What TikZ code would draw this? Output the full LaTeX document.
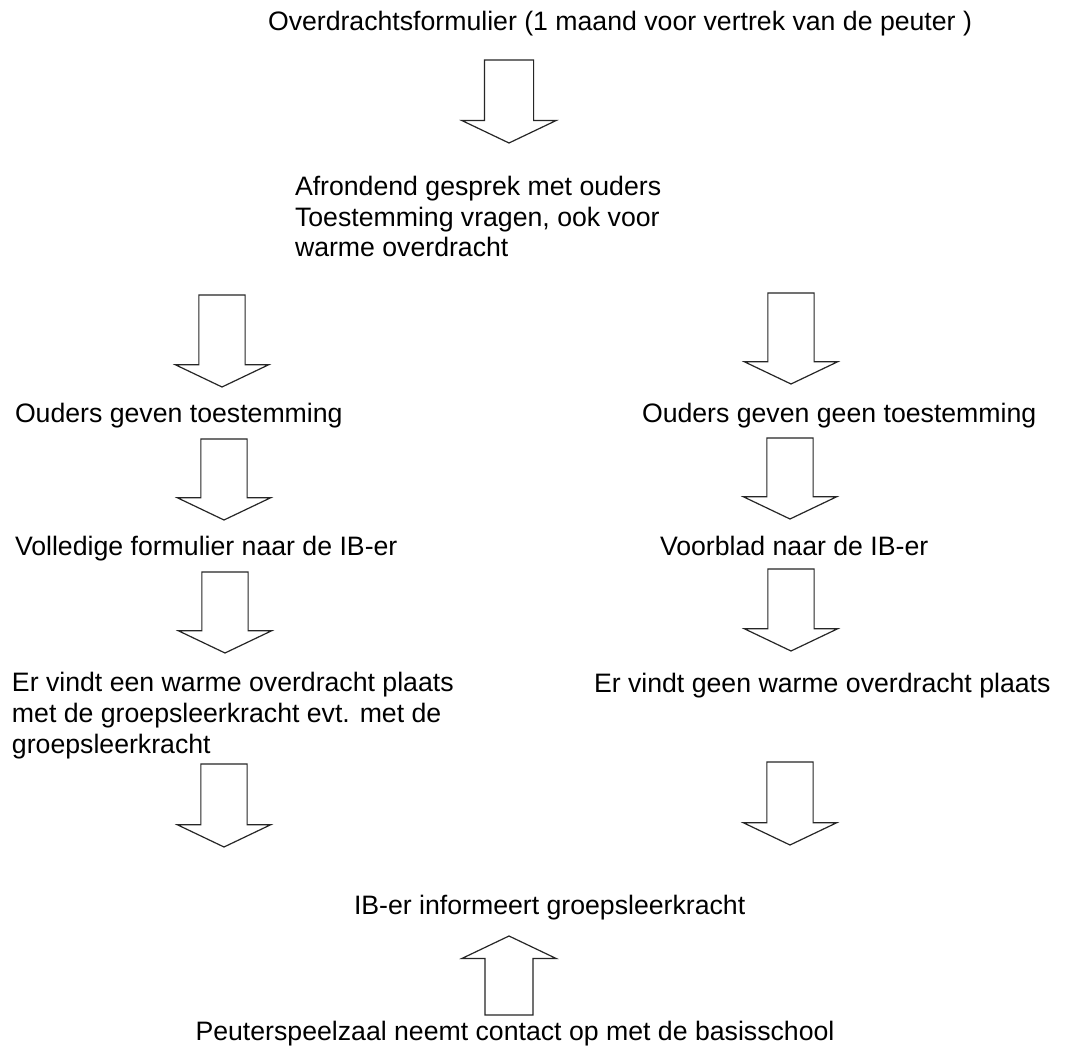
\documentclass[tikz,border=0pt]{standalone}
\usepackage{fontspec}
\setmainfont{Liberation Sans}
\usepackage{tikz}
\usetikzlibrary{shapes.arrows,positioning}
\tikzstyle{txt}=[inner sep=0pt, outer sep=0pt, align=left, font=\fontsize{20}{23}\selectfont]
\tikzstyle{darr}=[single arrow, draw=black!85, line width=0.9pt, fill=white, anchor=tail, inner xsep=0pt, inner ysep=16.9pt, single arrow head extend=17.6pt, single arrow tip angle=129, outer sep=0pt]

\begin{document}
\begin{tikzpicture}
[x=0.75pt, y=-0.75pt]
 \fill[white] (0,0) rectangle (1067,1055);
 \node[txt, anchor=base] (t0) at (620,31) {Overdrachtsformulier (1 maand voor vertrek van de peuter )};
 \node[darr, rotate=-90, inner ysep=18pt, single arrow head extend=16.9pt, minimum height=62.25pt] (a0) at (509,60) {};
 \node[txt, anchor=base west] (t1) at (295,257) {Afrondend gesprek met ouders\\Toestemming vragen, ook voor\\warme overdracht};
 \node[darr, rotate=-90, minimum height=69pt] (l2) at (222,295) {};
 \node[darr, rotate=-90, minimum height=68.25pt] (r2) at (791,293) {};
 \node[txt, anchor=base west] (l2t) at (15,422) {Ouders geven toestemming};
 \node[txt, anchor=base west] (r2t) at (642,422) {Ouders geven geen toestemming};
 \node[darr, rotate=-90, minimum height=60.75pt] (l3) at (224,439) {};
 \node[darr, rotate=-90, minimum height=60.75pt] (r3) at (790,438) {};
 \node[txt, anchor=base west] (l3t) at (15,555) {Volledige formulier naar de IB-er};
 \node[txt, anchor=base west] (r3t) at (660,555) {Voorblad naar de IB-er};
 \node[darr, rotate=-90, minimum height=60.75pt] (l4) at (225,572) {};
 \node[darr, rotate=-90, minimum height=61.5pt] (r4) at (791,569) {};
 \node[txt, anchor=base west] (l4t) at (12,753) {Er vindt een warme overdracht plaats\\met de groepsleerkracht evt. met de\\groepsleerkracht};
 \node[txt, anchor=base west] (r4t) at (594,692) {Er vindt geen warme overdracht plaats};
 \node[darr, rotate=-90, minimum height=62.25pt] (l5) at (224,764) {};
 \node[darr, rotate=-90, minimum height=62.25pt] (r5) at (790,762) {};
 \node[txt, anchor=base west] (t5) at (354,914) {IB-er informeert groepsleerkracht};
 \node[darr, rotate=90, inner ysep=17.6pt, single arrow head extend=17.4pt, minimum height=59.25pt] (up) at (509,1015) {};
 \node[txt, anchor=base] (t6) at (515,1040) {Peuterspeelzaal neemt contact op met de basisschool};
\end{tikzpicture}
\end{document}
